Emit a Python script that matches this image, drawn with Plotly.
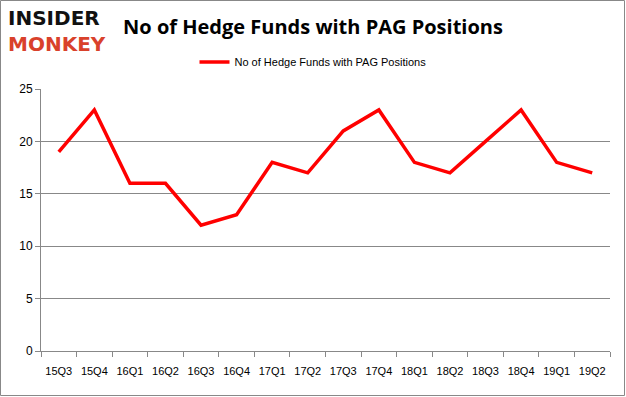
import plotly.graph_objects as go

quarters = ["15Q3", "15Q4", "16Q1", "16Q2", "16Q3", "16Q4", "17Q1", "17Q2",
            "17Q3", "17Q4", "18Q1", "18Q2", "18Q3", "18Q4", "19Q1", "19Q2"]
funds = [19, 23, 16, 16, 12, 13, 18, 17, 21, 23, 18, 17, 20, 23, 18, 17]
series_name = "No of Hedge Funds with PAG Positions"
y_ticks = [0, 5, 10, 15, 20, 25]

W, H = 626, 397
ml, mr, mt, mb = 41, 16, 89, 46
pw, ph = W - ml - mr, H - mt - mb

fig = go.Figure()
fig.add_trace(go.Scatter(
    x=quarters, y=funds, mode="lines", name=series_name,
    line=dict(color="#ff0000", width=3.5),
))

fig.update_layout(
    width=W, height=H,
    margin=dict(l=ml, r=mr, t=mt, b=mb, autoexpand=False),
    paper_bgcolor="white", plot_bgcolor="white",
    font=dict(family="Liberation Sans, Arial, sans-serif", color="#000000", size=11),
    showlegend=True,
    legend=dict(orientation="h", x=313 / W, xanchor="center", xref="container",
                y=1 - 62 / H, yanchor="middle", yref="container",
                font=dict(size=11), bgcolor="rgba(0,0,0,0)", itemwidth=30),
    title=dict(text="<b>No of Hedge Funds with PAG Positions</b>", x=313 / W, xanchor="center",
               y=1 - 27 / H, yanchor="middle",
               font=dict(size=20, family="Open Sans, Liberation Sans, sans-serif", color="#000000")),
    xaxis=dict(
        type="category", range=[-0.5, len(quarters) - 0.5],
        showgrid=False, showline=True, linecolor="#888888", linewidth=1,
        ticks="outside", tickson="boundaries", ticklen=5, tickcolor="#888888",
        tickfont=dict(size=11), tickangle=0, ticklabelstandoff=10,
        fixedrange=True, automargin=False,
    ),
    yaxis=dict(
        range=[0, 25], tickvals=y_ticks, showgrid=True, gridcolor="#888888", gridwidth=1,
        showline=True, linecolor="#888888", linewidth=1,
        ticks="outside", ticklen=5, tickcolor="#888888",
        tickfont=dict(size=12), zeroline=False, fixedrange=True, automargin=False,
    ),
    shapes=[dict(type="rect", xref="paper", yref="paper",
                 x0=-(ml - 0.5) / pw, x1=1 + (mr - 1.5) / pw,
                 y0=-(mb - 1.5) / ph, y1=1 + (mt - 0.5) / ph,
                 line=dict(color="#888888", width=1), fillcolor="rgba(0,0,0,0)", layer="below")],
    annotations=[
        dict(text="<b>INSIDER</b><br><b><span style='color:#d9412b'>MONKEY</span></b>",
             xref="paper", yref="paper", align="left",
             x=-(ml - 6) / pw, y=1 + (mt - 31) / ph, xanchor="left", yanchor="middle",
             showarrow=False, font=dict(size=20, family="DejaVu Sans", color="#111111")),
    ],
)

fig.write_html("out.html", config={"displayModeBar": False},
               post_script="document.body.style.margin='0px';")
